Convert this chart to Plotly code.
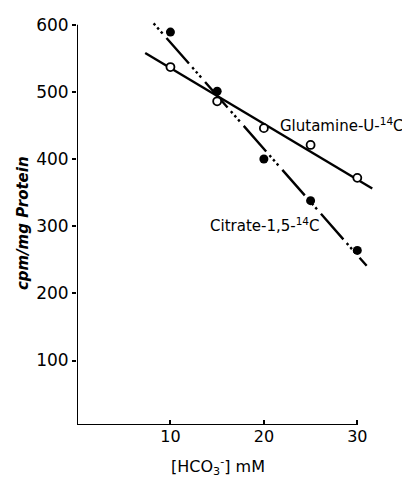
import plotly.graph_objects as go

# Data
hco3_mM = [10, 15, 20, 25, 30]
citrate_cpm = [589, 501, 400, 338, 264]
glutamine_cpm = [537, 486, 446, 421, 372]

# Drawn fit lines (end points)
citrate_fit_x = [8.2, 31.0]
citrate_fit_y = [602, 241]
glutamine_fit_x = [7.3, 31.6]
glutamine_fit_y = [558, 356]

x_ticks = [10, 20, 30]
y_ticks = [100, 200, 300, 400, 500, 600]

FONT = "DejaVu Sans"

fig = go.Figure()

fig.add_trace(go.Scatter(
    x=glutamine_fit_x, y=glutamine_fit_y, mode="lines",
    line=dict(color="black", width=2.4), showlegend=False, hoverinfo="skip"))
fig.add_trace(go.Scatter(
    x=citrate_fit_x, y=citrate_fit_y, mode="lines",
    line=dict(color="black", width=2.4,
              dash="2.5px,3px,2.5px,3px,2.5px,6px,34px,5px"),
    showlegend=False, hoverinfo="skip"))
fig.add_trace(go.Scatter(
    x=hco3_mM, y=glutamine_cpm, mode="markers",
    marker=dict(symbol="circle", size=8, color="white",
                line=dict(color="black", width=1.8)),
    showlegend=False, cliponaxis=False))
fig.add_trace(go.Scatter(
    x=hco3_mM, y=citrate_cpm, mode="markers",
    marker=dict(symbol="circle", size=9, color="black",
                line=dict(color="black", width=0)),
    showlegend=False, cliponaxis=False))

# axis lines drawn as shapes (they stop at 30 mM / 600)
fig.add_shape(type="line", xref="x", yref="y", x0=0, x1=30, y0=4, y1=4,
              line=dict(color="black", width=2))
fig.add_shape(type="line", xref="x", yref="y", x0=0, x1=0, y0=4, y1=600,
              line=dict(color="black", width=2))

fig.add_annotation(x=21.55, y=450, xref="x", yref="y", xanchor="left", yanchor="middle",
                   text="Glutamine-U-<sup>14</sup>C", showarrow=False,
                   font=dict(family=FONT, size=15, color="black"))
fig.add_annotation(x=14.0, y=302, xref="x", yref="y", xanchor="left", yanchor="middle",
                   text="Citrate-1,5-<sup>14</sup>C", showarrow=False,
                   font=dict(family=FONT, size=15, color="black"))

fig.add_annotation(x=-0.182, y=0.495, xref="paper", yref="paper",
                   xanchor="center", yanchor="middle",
                   text="<b><i>cpm/mg Protein</i></b>", textangle=-90, showarrow=False,
                   font=dict(family=FONT, size=15, color="black"))
fig.add_annotation(x=0.473, y=-0.102, xref="paper", yref="paper",
                   xanchor="center", yanchor="middle",
                   text="[HCO<sub>3</sub><sup>-</sup>] mM", showarrow=False,
                   font=dict(family=FONT, size=16, color="black"))

fig.update_xaxes(range=[0, 32], tickvals=x_ticks, ticks="inside", ticklen=5,
                 tickwidth=1.5, tickcolor="black", showgrid=False, zeroline=False,
                 showline=False, tickfont=dict(family=FONT, size=16, color="black"))
fig.update_yaxes(range=[4, 610], tickvals=y_ticks, ticks="outside", ticklen=4,
                 tickwidth=1.5, tickcolor="black", showgrid=False, zeroline=False,
                 showline=False, tickfont=dict(family=FONT, size=17, color="black"))

# the page body has an 8px margin: compensate so the plot lands where the reference's is
fig.update_layout(
    width=402, height=469,
    margin=dict(l=68.5, r=34.3, t=6.9, b=52),
    plot_bgcolor="white", paper_bgcolor="white",
    showlegend=False,
)

fig.write_html("out.html")
